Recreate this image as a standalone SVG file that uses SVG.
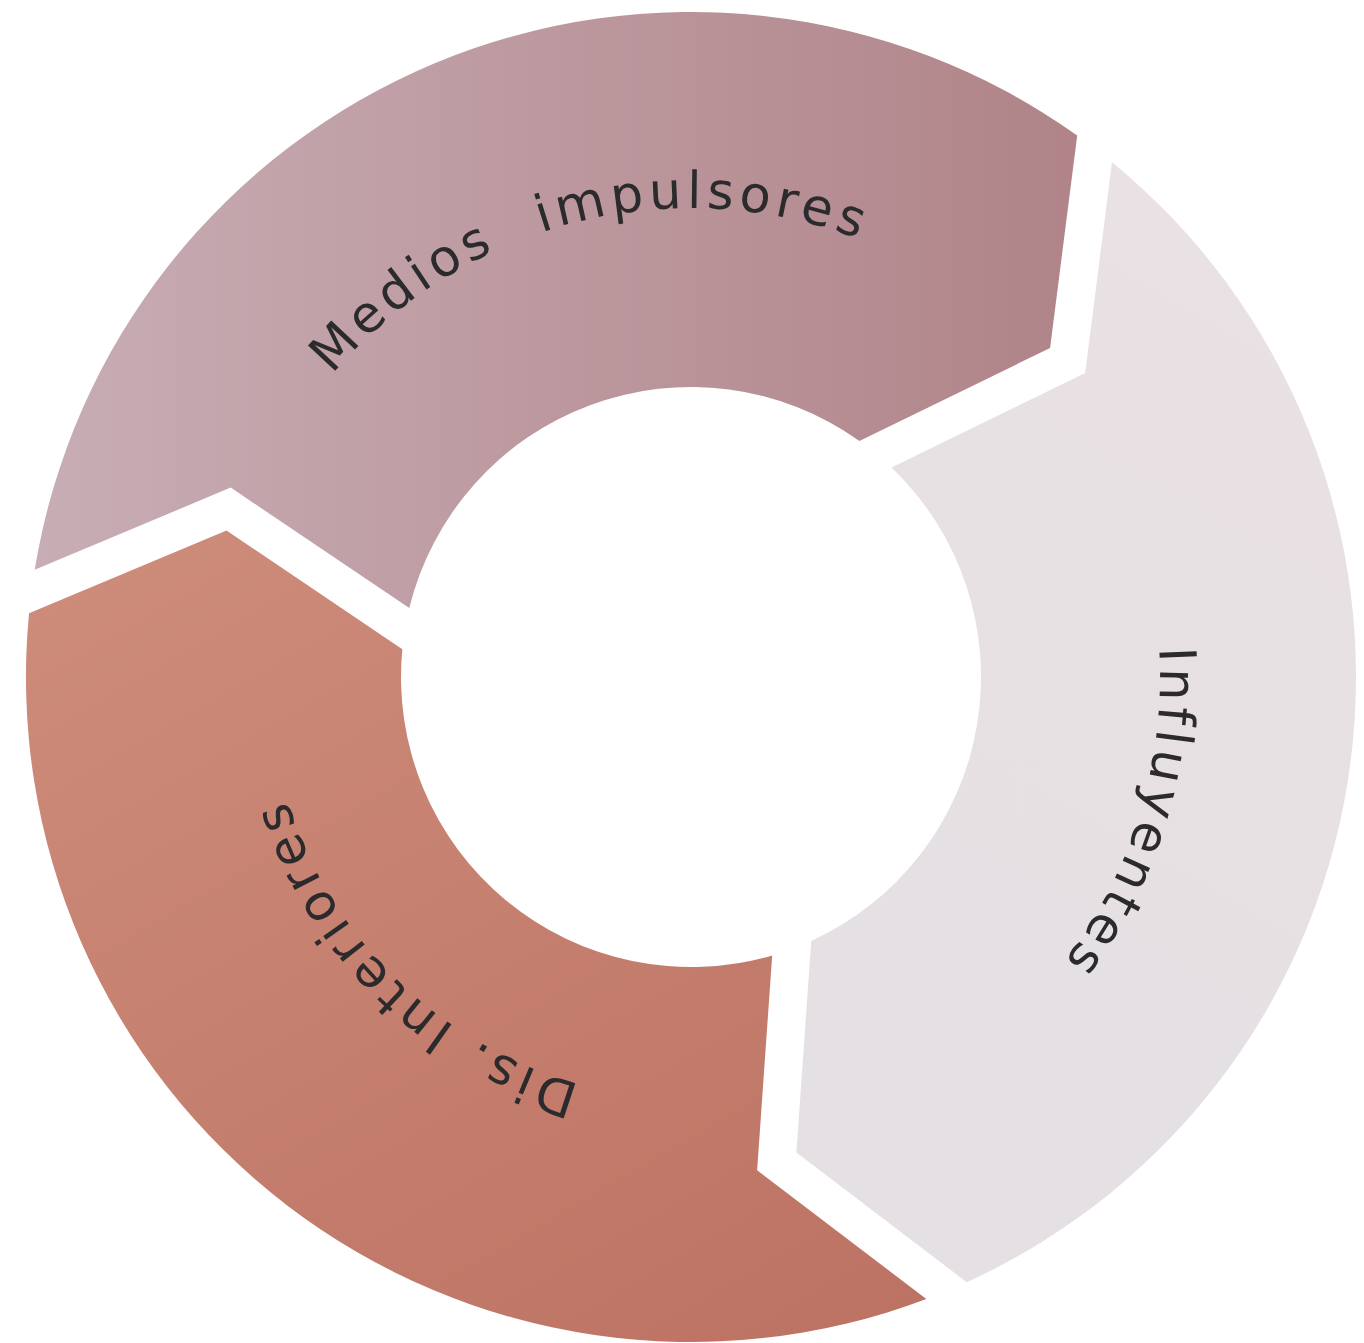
<svg xmlns="http://www.w3.org/2000/svg" xmlns:xlink="http://www.w3.org/1999/xlink" width="1364" height="1343" viewBox="0 0 1364 1343">
<style>
.lbl { font-family: "DejaVu Sans", "Liberation Sans", Arial, sans-serif; font-size: 51px; fill: #2b2a2c; letter-spacing: 5px; }
</style>
<defs>
<path id="arrow" d="M -656.3,-107.2 A 665 665 0 0 1 386.2,-541.4 L 359.1,-329.0 L 168.4,-236.1 A 290 290 0 0 0 -281.7,-68.9 L -460.3,-189.4 Z"/>
<path id="tp" d="M -451.3,-127.7 A 469 469 0 0 1 336.2,-327.0" fill="none"/>
<path id="tp2" d="M -406.1,-114.9 A 422 422 0 0 1 302.5,-294.2" fill="none"/>
<linearGradient id="gMed" x1="0" y1="0" x2="1" y2="0">
<stop offset="0" stop-color="#c8adb5"/>
<stop offset="1" stop-color="#b08488"/>
</linearGradient>
<linearGradient id="gInf" x1="0" y1="0" x2="1" y2="0">
<stop offset="0" stop-color="#e9e1e3"/>
<stop offset="1" stop-color="#e4e0e3"/>
</linearGradient>
<linearGradient id="gDis" x1="0" y1="0" x2="1" y2="0">
<stop offset="0" stop-color="#bd7363"/>
<stop offset="1" stop-color="#cd8b7a"/>
</linearGradient>
</defs>
<rect width="1364" height="1343" fill="#ffffff"/>
<g id="node-medios" transform="translate(691 677)">
<use href="#arrow" xlink:href="#arrow" fill="url(#gMed)"/>
<text class="lbl"><textPath href="#tp" xlink:href="#tp" startOffset="491" text-anchor="middle">Medios <tspan dx="25">impulsores</tspan></textPath></text>
</g>
<g id="node-influyentes" transform="translate(691 677) rotate(120)">
<use href="#arrow" xlink:href="#arrow" fill="url(#gInf)"/>
<text class="lbl"><textPath href="#tp" xlink:href="#tp" startOffset="502" text-anchor="middle">Influyentes</textPath></text>
</g>
<g id="node-dis-interiores" transform="translate(691 677) rotate(240)">
<use href="#arrow" xlink:href="#arrow" fill="url(#gDis)"/>
<text class="lbl"><textPath href="#tp2" xlink:href="#tp2" startOffset="432" text-anchor="middle">Dis. Interiores</textPath></text>
</g>
<g id="connectors"></g>
</svg>
